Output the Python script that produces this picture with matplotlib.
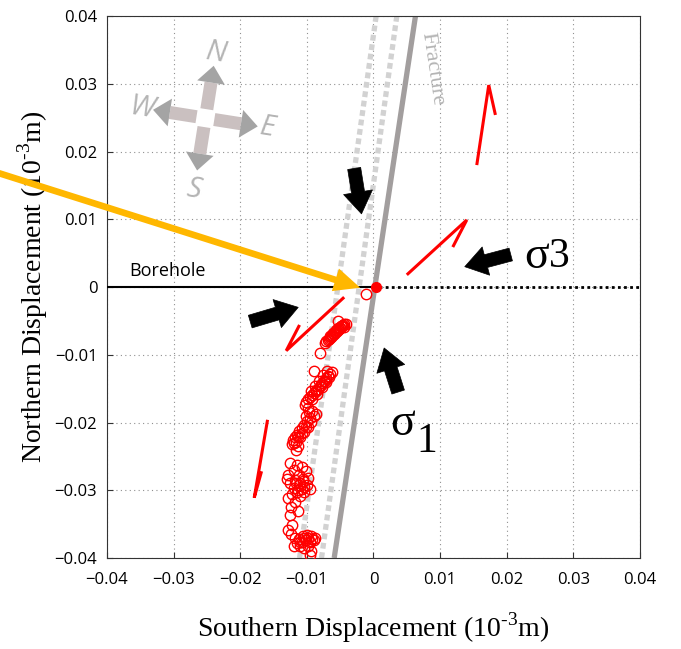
import numpy as np
import matplotlib
matplotlib.use('Agg')
import matplotlib.pyplot as plt
from matplotlib.patches import Polygon
from matplotlib.transforms import Affine2D, ScaledTranslation

plt.rcParams['mathtext.fontset'] = 'custom'
plt.rcParams['mathtext.rm'] = 'Liberation Serif'
plt.rcParams['font.family'] = ['Open Sans', 'DejaVu Sans']

# ---------------- data ----------------
ticks = [-0.04, -0.03, -0.02, -0.01, 0, 0.01, 0.02, 0.03, 0.04]
tick_labels = ['\u22120.04', '\u22120.03', '\u22120.02', '\u22120.01', '0', '0.01', '0.02', '0.03', '0.04']

fracture_x = [-0.0059, 0.0063]
fracture_y = [-0.04, 0.04]
band_left_x = [-0.0111, 0.0004]
band_right_x = [-0.0078, 0.0035]
band_y = [-0.04, 0.04]

borehole_x = [-0.04, 0.0]
borehole_y = [0.0, 0.0]
extension_x = [0.0, 0.04]
extension_y = [0.0, 0.0]
origin_x = [0.0004]
origin_y = [0.0]

disp_x = [
    -0.0011,
    -0.0071, -0.0068, -0.0066, -0.0064, -0.0062, -0.0060, -0.0058, -0.0056, -0.0054, -0.0052,
    -0.0050, -0.0048, -0.0046, -0.0044, -0.0042, -0.0065, -0.0061, -0.0057, -0.0053, -0.0049,
    -0.0045, -0.0053, -0.0073, -0.0081, -0.0067, -0.0063, -0.0059, -0.0055, -0.0051, -0.0047,
    -0.0063, -0.0066, -0.0069, -0.0072, -0.0075, -0.0078, -0.0081, -0.0084, -0.0087, -0.0090,
    -0.0093, -0.0096, -0.0099, -0.0101, -0.0070, -0.0076, -0.0082, -0.0088, -0.0094, -0.0071,
    -0.0077, -0.0085, -0.0092, -0.0089, -0.0098, -0.0103, -0.0067, -0.0073, -0.0079, -0.0086,
    -0.0092, -0.0097, -0.0090, -0.0095, -0.0100, -0.0104, -0.0108, -0.0112, -0.0115, -0.0118,
    -0.0121, -0.0122, -0.0098, -0.0105, -0.0110, -0.0117, -0.0087, -0.0102, -0.0116, -0.0113,
    -0.0094, -0.0101, -0.0107, -0.0113, -0.0119,
    -0.0125, -0.0115, -0.0108, -0.0120, -0.0102, -0.0128, -0.0112, -0.0098, -0.0118, -0.0106,
    -0.0126, -0.0112, -0.0100, -0.0120, -0.0108, -0.0096, -0.0115, -0.0104, -0.0122, -0.0110,
    -0.0128, -0.0118, -0.0124, -0.0114, -0.0130, -0.0110, -0.0104, -0.0116, -0.0106, -0.0113,
    -0.0126, -0.0122, -0.0124, -0.0118, -0.0112, -0.0106, -0.0100, -0.0094, -0.0088, -0.0115,
    -0.0108, -0.0102, -0.0096, -0.0090, -0.0110, -0.0104, -0.0098, -0.0094, -0.0096, -0.0120,
    -0.0128, -0.0105, -0.0099, -0.0093, -0.0111,
]
disp_y = [
    -0.0010,
    -0.0080, -0.0078, -0.0075, -0.0074, -0.0071, -0.0070, -0.0067, -0.0066, -0.0063, -0.0062,
    -0.0060, -0.0058, -0.0056, -0.0055, -0.0054, -0.0072, -0.0068, -0.0064, -0.0060, -0.0057,
    -0.0059, -0.0050, -0.0082, -0.0097, -0.0077, -0.0072, -0.0069, -0.0065, -0.0061, -0.0058,
    -0.0125, -0.0128, -0.0131, -0.0135, -0.0138, -0.0142, -0.0146, -0.0150, -0.0154, -0.0157,
    -0.0160, -0.0163, -0.0166, -0.0170, -0.0124, -0.0130, -0.0138, -0.0146, -0.0153, -0.0140,
    -0.0148, -0.0158, -0.0165, -0.0124, -0.0178, -0.0174, -0.0133, -0.0139, -0.0145, -0.0152,
    -0.0183, -0.0185, -0.0190, -0.0194, -0.0198, -0.0203, -0.0208, -0.0213, -0.0218, -0.0222,
    -0.0226, -0.0231, -0.0206, -0.0214, -0.0221, -0.0229, -0.0188, -0.0190, -0.0240, -0.0234,
    -0.0199, -0.0207, -0.0215, -0.0222, -0.0230,
    -0.0260, -0.0262, -0.0265, -0.0270, -0.0272, -0.0278, -0.0278, -0.0282, -0.0285, -0.0286,
    -0.0290, -0.0292, -0.0292, -0.0296, -0.0298, -0.0298, -0.0302, -0.0303, -0.0305, -0.0308,
    -0.0312, -0.0318, -0.0325, -0.0330, -0.0284, -0.0289, -0.0295, -0.0290, -0.0283, -0.0299,
    -0.0336, -0.0352, -0.0365, -0.0370, -0.0372, -0.0368, -0.0366, -0.0368, -0.0370, -0.0378,
    -0.0376, -0.0374, -0.0376, -0.0374, -0.0382, -0.0385, -0.0382, -0.0390, -0.0396, -0.0382,
    -0.0358, -0.0371, -0.0371, -0.0372, -0.0376,
]

# red half-arrows (start, tip, barb end)
shear_arrows = [
    [(0.0050, 0.0018), (0.0140, 0.0099), (0.0119, 0.0059)],
    [(0.0155, 0.0180), (0.0173, 0.0298), (0.0183, 0.0254)],
    [(-0.0044, -0.0015), (-0.0131, -0.0094), (-0.0111, -0.0056)],
    [(-0.0159, -0.0196), (-0.0179, -0.0311), (-0.0168, -0.0272)],
]
# black stress arrows (tail, tip)
stress_arrows = [
    [(-0.0029, 0.0175), (-0.0018, 0.0108)],
    [(-0.0185, -0.0051), (-0.0113, -0.0030)],
    [(0.0037, -0.0155), (0.0016, -0.0090)],
    [(0.0206, 0.0048), (0.0137, 0.0030)],
]
# yellow borehole view arrow (tail, tip)
view_tail = (-0.0562, 0.0168)
view_tip = (-0.0020, -0.0001)

compass_center = (-0.02523, 0.02493)

# ---------------- figure ----------------
fig = plt.figure(figsize=(6.81, 6.49), dpi=100)
ax = fig.add_axes([0.1571, 0.1402, 0.7827, 0.8351])
ax.set_xlim(-0.04, 0.04)
ax.set_ylim(-0.04, 0.04)
ax.set_xticks(ticks)
ax.set_xticklabels(tick_labels)
ax.set_yticks(ticks)
ax.set_yticklabels(tick_labels)
ax.tick_params(direction='in', length=4, width=0.8, labelsize=12, color='#333333')
ax.tick_params(axis='x', pad=10)
ax.tick_params(axis='y', pad=7)
for s in ax.spines.values():
    s.set_color('#333333')
    s.set_linewidth(0.8)
ax.grid(True, linestyle=(0, (1, 3)), color='#909090', linewidth=0.8)
ax.set_axisbelow(True)

# fracture and band
ax.plot(band_left_x, band_y, color='#D2D2D2', lw=3.8, linestyle=(0, (1.1, 0.7)), zorder=2)
ax.plot(band_right_x, band_y, color='#D2D2D2', lw=3.8, linestyle=(0, (1.1, 0.7)), zorder=2)
ax.plot(fracture_x, fracture_y, color='#A29E9E', lw=3.8, solid_capstyle='butt', zorder=2)

# borehole
ax.plot(borehole_x, borehole_y, color='black', lw=1.5, zorder=3)
ax.plot(extension_x, extension_y, color='black', lw=2.0, linestyle=(0, (1, 1.2)), zorder=3)
ax.text(-0.0366, 0.0010, 'Borehole', fontsize=13, color='black', ha='left', va='bottom')

# displacement scatter
ax.plot(disp_x, disp_y, 'o', mfc='none', mec='red', ms=7.5, mew=1.0, zorder=4)
ax.plot(origin_x, origin_y, 'o', color='red', ms=7, zorder=5)

# red half arrows
for a in shear_arrows:
    xs = [p[0] for p in a]
    ys = [p[1] for p in a]
    ax.plot(xs, ys, color='red', lw=2.2, solid_joinstyle='miter', solid_capstyle='butt', zorder=4)

# black stress arrows
for tail, tip in stress_arrows:
    ax.annotate('', xy=tip, xytext=tail,
                arrowprops=dict(arrowstyle='simple,head_length=0.75,head_width=1.0,tail_width=0.45',
                                fc='black', ec='black', lw=0.5, mutation_scale=21,
                                shrinkA=0, shrinkB=0), zorder=6)

# yellow arrow
ax.annotate('', xy=view_tip, xytext=view_tail, annotation_clip=False,
            arrowprops=dict(arrowstyle='simple,head_length=1.1,head_width=1.0,tail_width=0.28',
                            fc='#FFB700', ec='none', mutation_scale=17,
                            shrinkA=0, shrinkB=0), zorder=6)

# texts
ax.text(0.0088, 0.0322, 'Fracture', rotation=-81.5, color='#B4B4B4', fontsize=16,
        family='Liberation Serif', ha='center', va='center', rotation_mode='anchor')
ax.text(0.00435, -0.0202, '\u03c3', fontsize=33, family='Liberation Serif', ha='center', va='center')
ax.text(0.0080, -0.0228, '1', fontsize=30, family='Liberation Serif', ha='center', va='center')
ax.text(0.0245, 0.0044, '\u03c3', fontsize=33, family='Liberation Serif', ha='center', va='center')
ax.text(0.0279, 0.0044, '3', fontsize=30, family='Liberation Serif', ha='center', va='center')

# compass
rot = -9
trans = Affine2D().rotate_deg(rot) + ScaledTranslation(compass_center[0], compass_center[1], ax.transData)
for ang in [90, 0, 180, 270]:
    u = np.array([np.cos(np.radians(ang)), np.sin(np.radians(ang))])
    p = np.array([-u[1], u[0]])
    r0, r1, r2 = 9, 36, 53
    hw, hh = 6.5, 14
    shaft = [r0 * u + hw * p, r1 * u + hw * p, r1 * u - hw * p, r0 * u - hw * p]
    head = [r1 * u + hh * p, r2 * u, r1 * u - hh * p]
    ax.add_patch(Polygon(shaft, closed=True, transform=trans, fc='#CAC0C0', ec='none', clip_on=False, zorder=3))
    ax.add_patch(Polygon(head, closed=True, transform=trans, fc='#A4A4A4', ec='none', clip_on=False, zorder=3))
for lab, pos in [('N', (0, 66)), ('E', (63, 0)), ('W', (-64, 0)), ('S', (0, -72))]:
    ax.text(pos[0], pos[1], lab, transform=trans, rotation=rot, fontsize=21, style='italic',
            color='#B4B4B4', ha='center', va='center', family=['Open Sans', 'DejaVu Sans'])

ax.set_xlabel('Southern Displacement (10$^{\\mathregular{\u20103}}$m)', fontsize=20,
              family='Liberation Serif', labelpad=16)
ax.set_ylabel('Northern Displacement (10$^{\\mathregular{\u20103}}$m)', fontsize=20,
              family='Liberation Serif', labelpad=3)

fig.savefig('out.png', dpi=100)
